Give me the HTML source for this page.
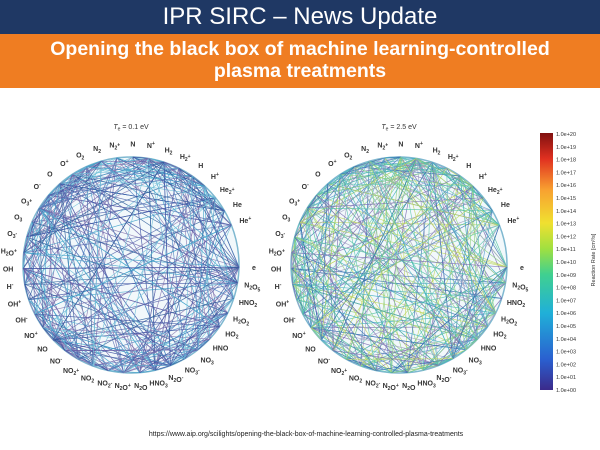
<!DOCTYPE html>
<html><head><meta charset="utf-8"><style>
html,body{margin:0;padding:0;background:#fff;}
#w{position:relative;width:600px;height:450px;overflow:hidden;font-family:"Liberation Sans",sans-serif;}
#h1{position:absolute;left:0;top:0;width:600px;height:34px;background:#1f3864;color:#fff;font-size:24px;text-align:center;line-height:34px;}
#h2{position:absolute;left:0;top:34px;width:600px;height:54px;background:#ef7d22;color:#fff;font-size:19.5px;font-weight:bold;text-align:center;line-height:22px;padding-top:4px;box-sizing:border-box;}
#url{position:absolute;left:0;width:600px;top:431px;text-align:center;font-size:7px;color:#222;padding-left:6px;}
svg{position:absolute;left:0;top:0;}
</style></head><body><div id="w">
<div id="h1">IPR SIRC – News Update</div>
<div id="h2">Opening the black box of machine learning-controlled<br>plasma treatments</div>
<svg id="s" width="600" height="450"></svg>
<div id="url">https://www.aip.org/scilights/opening-the-black-box-of-machine-learning-controlled-plasma-treatments</div>
</div>
<script>
var s=document.getElementById('s'),h='';
var labs=['e','N2O5','HNO2','H2O2','HO2','HNO','NO3','NO3-','N2O-','HNO3','N2O','N2O+','NO2-','NO2','NO2+','NO-','NO','NO+','OH-','OH+','H-','OH','H2O+','O3-','O3','O3+','O-','O','O+','O2','N2','N2+','N','N+','H2','H2+','H','H+','He2+','He','He+'];
var seed=7;function r(){seed=(seed*16807)%2147483647;return seed/2147483647;}
function lab(t){var out='';var sup=t.slice(-1)=='+'||t.slice(-1)=='-'?t.slice(-1):'';var base=sup?t.slice(0,-1):t;
base.split(/(\d)/).forEach(function(p){if(/\d/.test(p))out+='<tspan font-size="5" dy="2">'+p+'</tspan><tspan dy="-2"></tspan>';else out+=p;});
if(sup)out+='<tspan font-size="5" dy="-3">'+sup+'</tspan>';return out;}
var cols1=['#3a4fa0','#5a6bb0','#4d80c0','#6a5fa8','#3da0c8','#70c0d8','#8a7ab0','#2f5d9a'];
var cols2=['#40b0c0','#60c8b0','#90d080','#5a9fd0','#3a70b0','#c0d860','#7a6ab0','#50c0a0','#a0a0c0'];
function circ(cx,cy,R,title,cols){
 var n=labs.length,pts=[];
 for(var i=0;i<n;i++){var a=i*2*Math.PI/n*0.96+0.02;pts.push([cx+R*Math.cos(a),cy+R*Math.sin(a),a]);}
 h+='<circle cx="'+cx+'" cy="'+cy+'" r="'+R+'" fill="#f2f8fb" stroke="#7fb8d0" stroke-width="1.5"/>';
 for(var k=0;k<380;k++){var i=Math.floor(r()*n),j=Math.floor(r()*n);if(i==j)continue;
  if((i<5||i>37)&&(j<5||j>37))continue;
  h+='<line x1="'+pts[i][0].toFixed(1)+'" y1="'+pts[i][1].toFixed(1)+'" x2="'+pts[j][0].toFixed(1)+'" y2="'+pts[j][1].toFixed(1)+'" stroke="'+cols[Math.floor(r()*cols.length)]+'" stroke-width="0.7" opacity="0.85"/>';}
 for(var i=0;i<n;i++){var a=pts[i][2],x=cx+(R+15)*Math.cos(a),y=cy+(R+13)*Math.sin(a)+2.5;
  h+='<text x="'+x.toFixed(1)+'" y="'+y.toFixed(1)+'" font-size="7" font-weight="bold" fill="#333" text-anchor="middle">'+lab(labs[i])+'</text>';}
 h+='<text x="'+cx+'" y="129" font-size="7" fill="#333" text-anchor="middle"><tspan font-style="italic">T</tspan><tspan font-size="5" dy="1.5">e</tspan><tspan dy="-1.5"> = '+title+'</tspan></text>';
}
circ(131,265,108,'0.1 eV',cols1);
circ(399,265,108,'2.5 eV',cols2);
h+='<defs><linearGradient id="g" x1="0" y1="1" x2="0" y2="0"><stop offset="0" stop-color="#3b2a8a"/><stop offset="0.12" stop-color="#2a60d0"/><stop offset="0.3" stop-color="#20b0d8"/><stop offset="0.45" stop-color="#40d090"/><stop offset="0.55" stop-color="#a0e040"/><stop offset="0.65" stop-color="#f0e030"/><stop offset="0.78" stop-color="#f8a030"/><stop offset="0.9" stop-color="#e03020"/><stop offset="1" stop-color="#801010"/></linearGradient></defs>';
h+='<rect x="540" y="133" width="13" height="257" fill="url(#g)"/>';
for(var e=20;e>=0;e--){var y=134+(20-e)*12.8;h+='<text x="556" y="'+(y+2).toFixed(1)+'" font-size="5.5" fill="#333">1.0e'+(e==0?'+00':'+'+(e<10?'0':'')+e)+'</text>';}
h+='<text transform="translate(595,260) rotate(-90)" font-size="5.5" fill="#333" text-anchor="middle">Reaction Rate [cm³/s]</text>';
s.innerHTML=h;
</script>
</body></html>
